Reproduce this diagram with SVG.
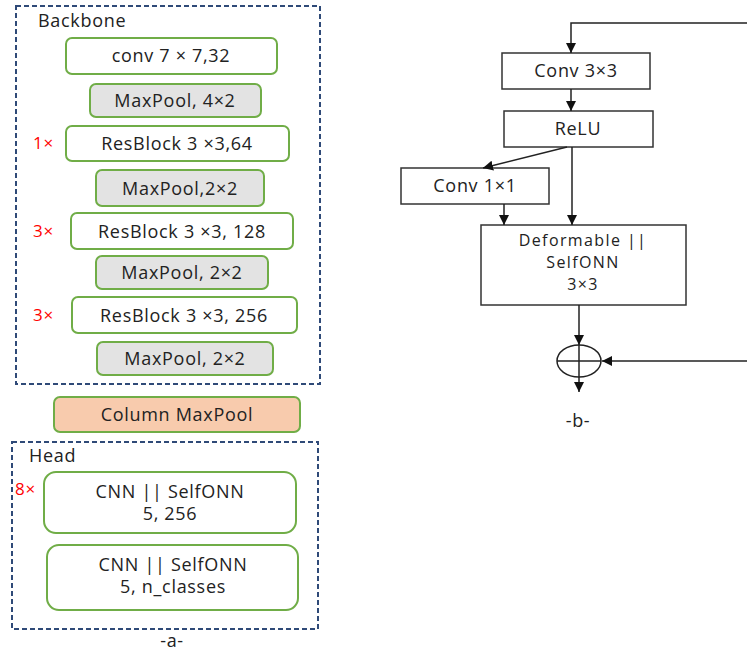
<svg xmlns="http://www.w3.org/2000/svg" width="747" height="655" viewBox="0 0 747 655">
  <style>
    text { font-family: "Open Sans", "Liberation Sans", sans-serif; font-size: 18px; letter-spacing: 0.7px; fill: #222; }
    .c { text-anchor: middle; }
    .rep { fill: #ff0000; font-size: 17px; }
    .dl { font-size: 16px; letter-spacing: 1.4px; }
    .grp { fill: none; stroke: #2f4a78; stroke-width: 2; stroke-dasharray: 5 3; }
    .blk { fill: #ffffff; stroke: #70ad47; stroke-width: 2; }
    .pool { fill: #e3e3e3; stroke: #70ad47; stroke-width: 2; }
    .col { fill: #f8cbad; stroke: #70ad47; stroke-width: 2; }
    .box { fill: #ffffff; stroke: #333; stroke-width: 1.5; }
    .ln { fill: none; stroke: #222; stroke-width: 1.5; }
  </style>
  <defs>
    <marker id="arr" viewBox="0 0 10 10" refX="10" refY="5" markerWidth="10" markerHeight="10" markerUnits="userSpaceOnUse" orient="auto">
      <path d="M0,0 L10,5 L0,10 z" fill="#111"/>
    </marker>
  </defs>

  <!-- (a) Backbone -->
  <g id="backbone">
    <rect class="grp" x="16" y="6" width="304" height="378"/>
    <text x="38" y="27">Backbone</text>
  </g>
  <g id="conv7">
    <rect class="blk" x="66" y="38" width="211" height="36" rx="6"/>
    <text class="c" x="171" y="62">conv 7 × 7,32</text>
  </g>
  <g id="pool1">
    <rect class="pool" x="90" y="84" width="171" height="33" rx="6"/>
    <text class="c" x="175" y="107">MaxPool, 4×2</text>
  </g>
  <g id="res64">
    <rect class="blk" x="66" y="126" width="223" height="35" rx="6"/>
    <text class="rep" x="33" y="149">1×</text>
    <text class="c" x="177" y="150">ResBlock 3 ×3,64</text>
  </g>
  <g id="pool2">
    <rect class="pool" x="96" y="170" width="168" height="36" rx="6"/>
    <text class="c" x="180" y="195">MaxPool,2×2</text>
  </g>
  <g id="res128">
    <rect class="blk" x="71" y="213" width="222" height="36" rx="6"/>
    <text class="rep" x="33" y="237">3×</text>
    <text class="c" x="182" y="238">ResBlock 3 ×3, 128</text>
  </g>
  <g id="pool3">
    <rect class="pool" x="96" y="256" width="172" height="33" rx="6"/>
    <text class="c" x="182" y="279">MaxPool, 2×2</text>
  </g>
  <g id="res256">
    <rect class="blk" x="72" y="297" width="225" height="36" rx="6"/>
    <text class="rep" x="33" y="321">3×</text>
    <text class="c" x="184" y="322">ResBlock 3 ×3, 256</text>
  </g>
  <g id="pool4">
    <rect class="pool" x="97" y="342" width="176" height="33" rx="6"/>
    <text class="c" x="185" y="365">MaxPool, 2×2</text>
  </g>

  <g id="colpool">
    <rect class="col" x="54" y="397" width="246" height="35" rx="6"/>
    <text class="c" x="177" y="421">Column MaxPool</text>
  </g>

  <g id="head">
    <rect class="grp" x="12" y="442" width="306" height="187"/>
    <text x="29" y="462">Head</text>
  </g>
  <g id="cnn1">
    <rect class="blk" x="44" y="472" width="252" height="61" rx="12"/>
    <text class="rep" x="15" y="495">8×</text>
    <text class="c" x="170" y="498">CNN || SelfONN</text>
    <text class="c" x="170" y="520">5, 256</text>
  </g>
  <g id="cnn2">
    <rect class="blk" x="47" y="545" width="251" height="65" rx="12"/>
    <text class="c" x="173" y="571">CNN || SelfONN</text>
    <text class="c" x="173" y="593">5, n_classes</text>
  </g>
  <text class="c" x="172" y="647">-a-</text>

  <!-- (b) Residual block -->
  <g id="conv3">
    <rect class="box" x="502" y="53" width="148" height="36"/>
    <text class="c" x="576" y="77">Conv 3×3</text>
  </g>
  <g id="relu">
    <rect class="box" x="504" y="111" width="149" height="36"/>
    <text class="c" x="578" y="135">ReLU</text>
  </g>
  <g id="conv1">
    <rect class="box" x="401" y="168" width="148" height="36"/>
    <text class="c" x="475" y="192">Conv 1×1</text>
  </g>
  <g id="deform">
    <rect class="box" x="481" y="225" width="205" height="80"/>
    <text class="c dl" x="583" y="246">Deformable ||</text>
    <text class="c dl" x="583" y="268">SelfONN</text>
    <text class="c dl" x="583" y="290">3×3</text>
  </g>
  <g id="sum">
    <ellipse class="ln" cx="579" cy="361" rx="22" ry="16"/>
    <line class="ln" x1="557" y1="361" x2="601" y2="361"/>
  </g>
  <text class="c" x="578" y="427">-b-</text>

  <g id="connectors">
    <polyline class="ln" points="747,23 571,23 571,53" marker-end="url(#arr)"/>
    <line class="ln" x1="571" y1="89" x2="571" y2="111" marker-end="url(#arr)"/>
    <line class="ln" x1="567" y1="147" x2="483" y2="168" marker-end="url(#arr)"/>
    <line class="ln" x1="572" y1="147" x2="572" y2="225" marker-end="url(#arr)"/>
    <line class="ln" x1="504" y1="204" x2="504" y2="225" marker-end="url(#arr)"/>
    <line class="ln" x1="579" y1="305" x2="579" y2="345" marker-end="url(#arr)"/>
    <line class="ln" x1="579" y1="345" x2="579" y2="392" marker-end="url(#arr)"/>
    <line class="ln" x1="747" y1="361" x2="602" y2="361" marker-end="url(#arr)"/>
  </g>
</svg>
